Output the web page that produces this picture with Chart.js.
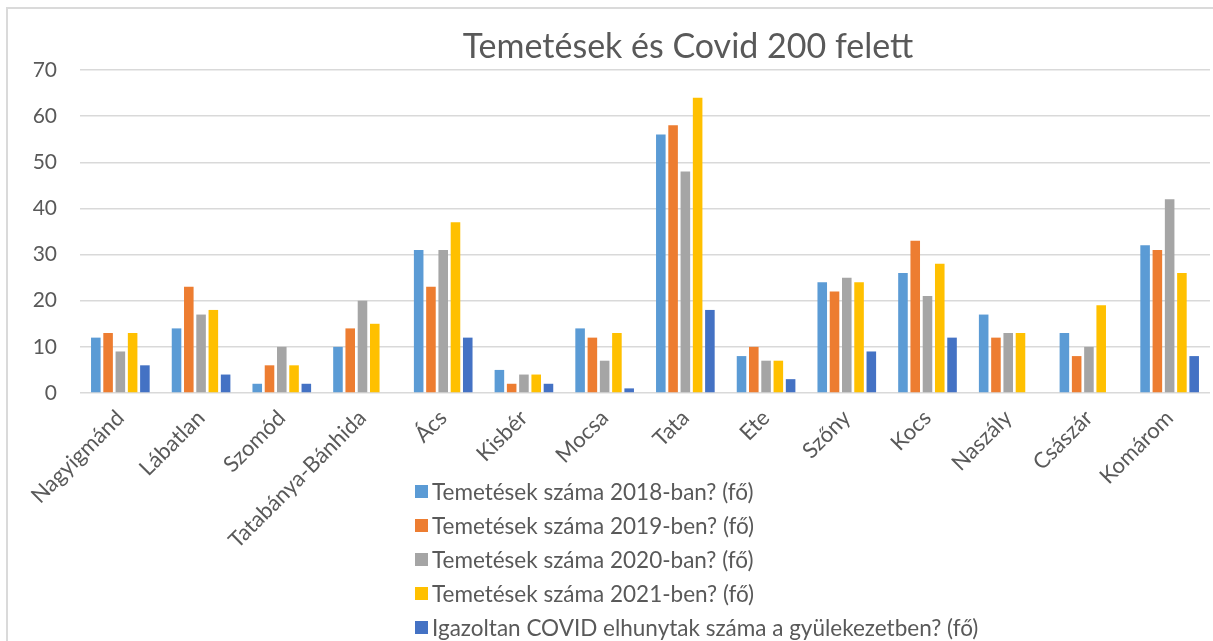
<!DOCTYPE html>
<html lang="hu">
<head>
<meta charset="utf-8">
<title>Temetések és Covid 200 felett</title>
<script src="https://cdn.jsdelivr.net/npm/chart.js@4.4.1/dist/chart.umd.min.js"></script>
<style>
  html, body { margin: 0; padding: 0; background: #fff; overflow: hidden; }
  #wrap { position: relative; width: 1213px; height: 641px; font-family: Lato, "Open Sans", sans-serif; color: #595959; }
  #frame { position: absolute; left: 6px; top: 7px; width: 1300px; height: 700px; border-left: 2px solid #dadada; border-top: 2px solid #dadada; pointer-events: none; }
  #chart-title { position: absolute; left: 0; width: 1376px; top: 25px; text-align: center; font-size: 34px; line-height: 40px; white-space: nowrap; }
  #legend { position: absolute; left: 415px; top: 474px; list-style: none; margin: 0; padding: 0; }
  #legend li { height: 34px; display: flex; align-items: center; font-size: 22.5px; white-space: nowrap; }
  #legend .box { width: 13px; height: 13px; margin-right: 4px; flex: none; }
</style>
</head>
<body>
<div id="wrap">
  <canvas id="bar-chart" width="1213" height="641"></canvas>
  <div id="frame"></div>
  <div id="chart-title">Temetések és Covid 200 felett</div>
  <ul id="legend"></ul>
</div>
<script>
// Data
const categories = ['Nagyigmánd', 'Lábatlan', 'Szomód', 'Tatabánya-Bánhida', 'Ács', 'Kisbér', 'Mocsa',
  'Tata', 'Ete', 'Szőny', 'Kocs', 'Naszály', 'Császár', 'Komárom'];
const funerals2018 = [12, 14, 2, 10, 31, 5, 14, 56, 8, 24, 26, 17, 13, 32];
const funerals2019 = [13, 23, 6, 14, 23, 2, 12, 58, 10, 22, 33, 12, 8, 31];
const funerals2020 = [9, 17, 10, 20, 31, 4, 7, 48, 7, 25, 21, 13, 10, 42];
const funerals2021 = [13, 18, 6, 15, 37, 4, 13, 64, 7, 24, 28, 13, 19, 26];
const covidDeaths = [6, 4, 2, null, 12, 2, 1, 18, 3, 9, 12, null, null, 8];
const seriesLabels = [
  'Temetések száma 2018-ban? (fő)',
  'Temetések száma 2019-ben? (fő)',
  'Temetések száma 2020-ban? (fő)',
  'Temetések száma 2021-ben? (fő)',
  'Igazoltan COVID elhunytak száma a gyülekezetben? (fő)',
];
const seriesColors = ['#5b9bd5', '#ed7d31', '#a5a5a5', '#ffc000', '#4472c4'];
const yMin = 0;
const yMax = 70;
const yStep = 10;

const textColor = '#595959';
const seriesValues = [funerals2018, funerals2019, funerals2020, funerals2021, covidDeaths];

const ctx = document.getElementById('bar-chart');

const chart = new Chart(ctx, {
  type: 'bar',
  data: {
    labels: categories,
    datasets: seriesValues.map((values, i) => ({
      label: seriesLabels[i],
      data: values,
      backgroundColor: seriesColors[i],
      borderWidth: 0,
      categoryPercentage: 0.76,
      barPercentage: 0.78,
    })),
  },
  options: {
    responsive: false,
    animation: false,
    layout: {
      padding: { top: 70, right: 3, bottom: 0, left: 0 },
    },
    plugins: {
      legend: { display: false },
      title: { display: false },
      tooltip: { enabled: false },
    },
    scales: {
      x: {
        grid: { display: false },
        border: { display: false },
        ticks: {
          color: textColor,
          font: { family: 'Lato', size: 22 },
          minRotation: 45,
          maxRotation: 45,
          padding: 4,
          autoSkip: false,
        },
        afterFit: function (scale) {
          scale.height = 248;
        },
      },
      y: {
        min: yMin,
        max: yMax,
        grid: {
          color: '#d9d9d9',
          lineWidth: 1.5,
          drawTicks: false,
        },
        border: { display: false },
        ticks: {
          stepSize: yStep,
          color: textColor,
          font: { family: 'Lato', size: 21 },
          padding: 23,
        },
        afterFit: function (scale) {
          scale.width = 80;
        },
      },
    },
  },
});

// Vertical legend built from the datasets
const legendList = document.getElementById('legend');
chart.data.datasets.forEach(ds => {
  const li = document.createElement('li');
  li.innerHTML = `<span class="box" style="background:${ds.backgroundColor}"></span>${ds.label}`;
  legendList.appendChild(li);
});
</script>
</body>
</html>
